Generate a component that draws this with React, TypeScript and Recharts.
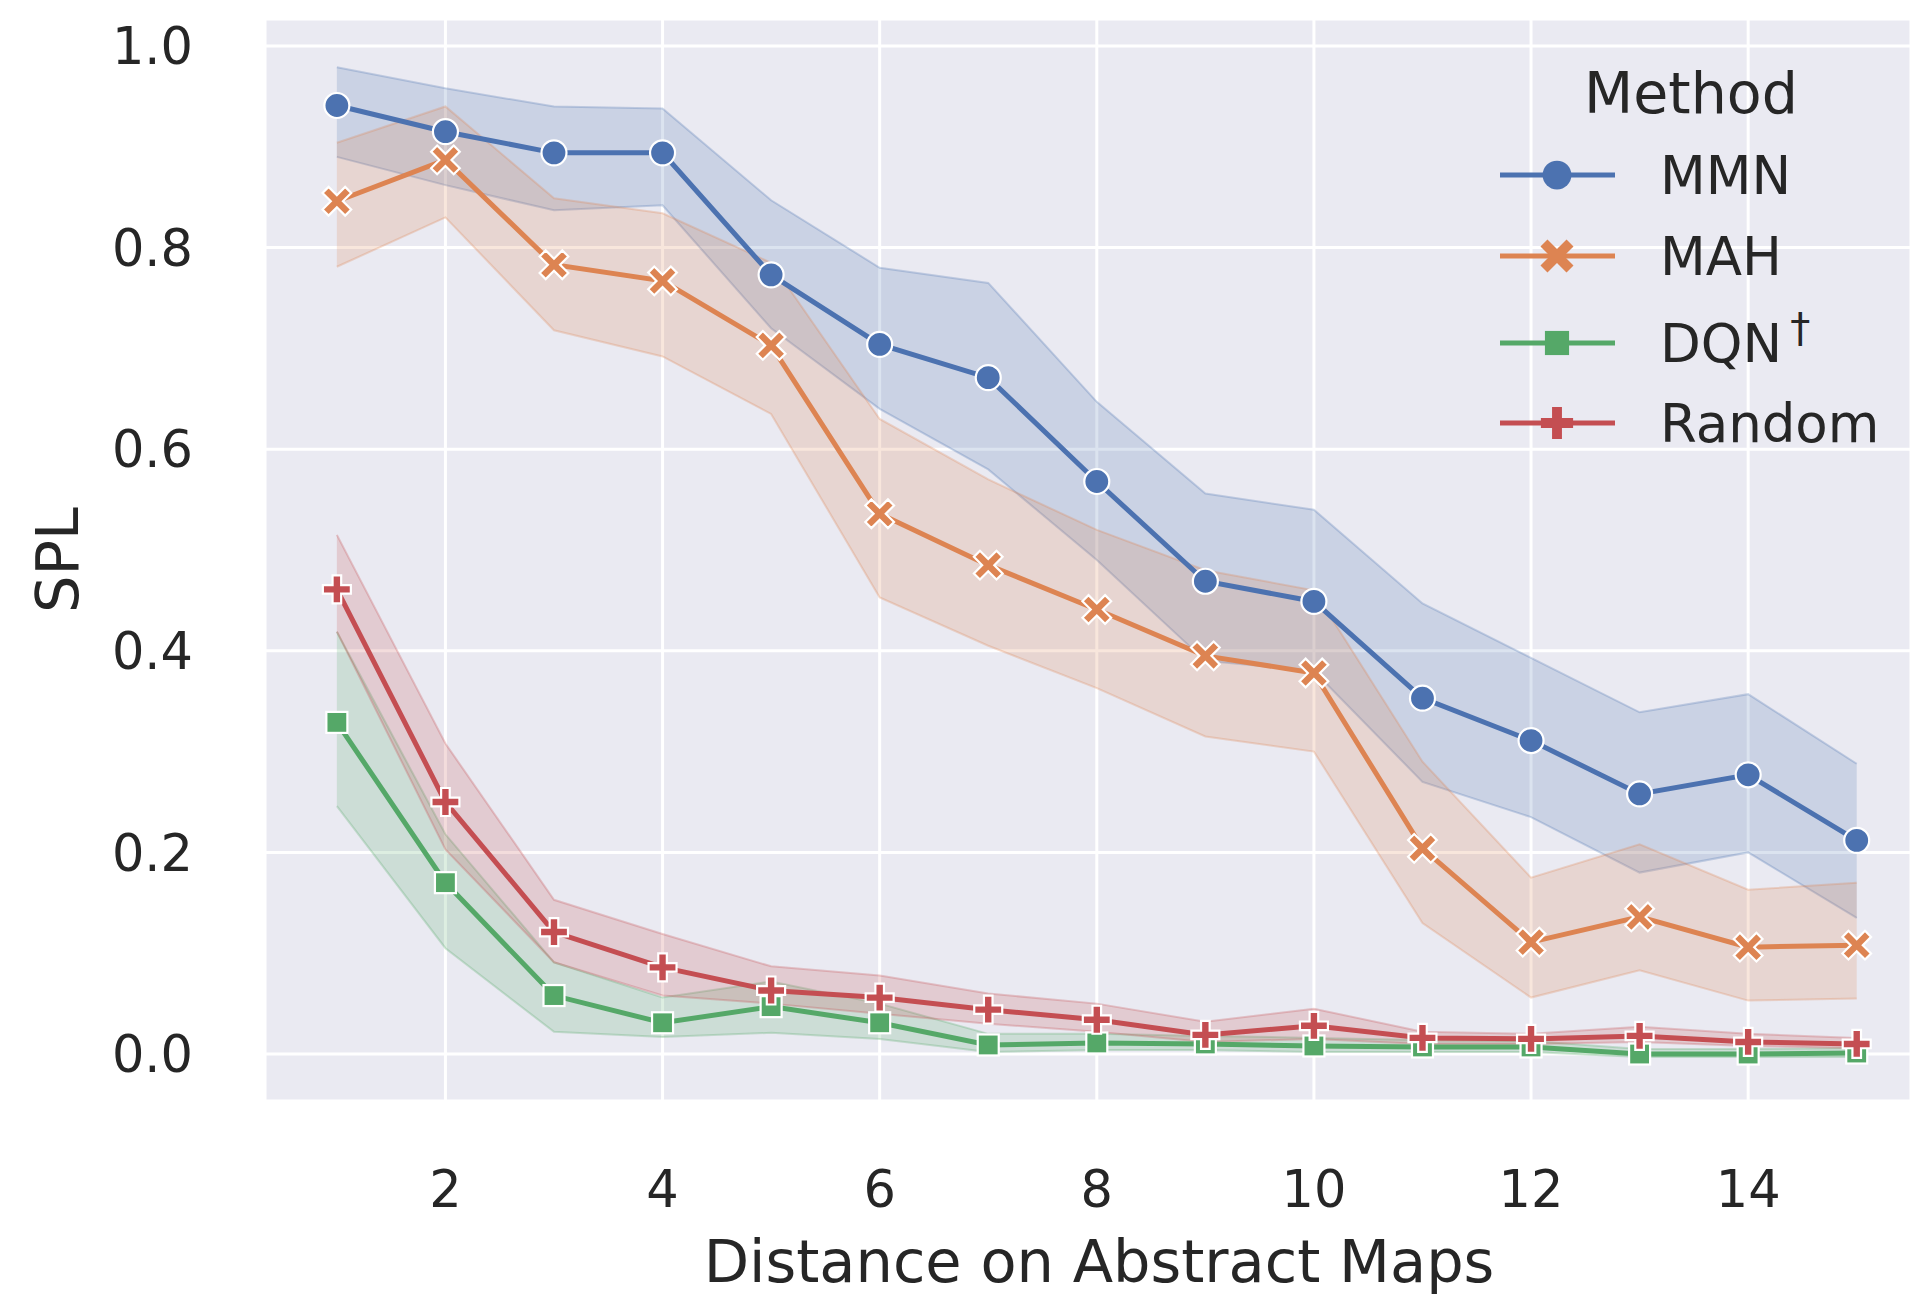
import React from 'react';
import { ComposedChart, Line, Area, XAxis, YAxis, CartesianGrid, Legend, Label } from 'recharts';

document.body.style.margin = '0';

const distances = [1, 2, 3, 4, 5, 6, 7, 8, 9, 10, 11, 12, 13, 14, 15];

const mmnMean = [0.941, 0.915, 0.894, 0.894, 0.773, 0.704, 0.671, 0.568, 0.469, 0.449, 0.353, 0.311, 0.258, 0.277, 0.212];
const mmnLow = [0.89, 0.862, 0.837, 0.842, 0.72, 0.64, 0.58, 0.49, 0.39, 0.38, 0.27, 0.235, 0.18, 0.2, 0.135];
const mmnHigh = [0.979, 0.958, 0.94, 0.938, 0.847, 0.78, 0.765, 0.647, 0.556, 0.54, 0.447, 0.393, 0.339, 0.357, 0.288];

const mahMean = [0.846, 0.887, 0.783, 0.767, 0.703, 0.536, 0.485, 0.441, 0.395, 0.378, 0.204, 0.111, 0.136, 0.106, 0.108];
const mahLow = [0.781, 0.83, 0.718, 0.692, 0.635, 0.453, 0.405, 0.363, 0.315, 0.3, 0.13, 0.056, 0.083, 0.053, 0.055];
const mahHigh = [0.904, 0.94, 0.849, 0.834, 0.785, 0.63, 0.57, 0.52, 0.48, 0.46, 0.29, 0.175, 0.208, 0.163, 0.17];

const dqnMean = [0.329, 0.17, 0.058, 0.031, 0.047, 0.031, 0.009, 0.011, 0.01, 0.008, 0.007, 0.007, 0.0, 0.0, 0.001];
const dqnLow = [0.246, 0.105, 0.022, 0.017, 0.021, 0.015, 0.002, 0.004, 0.004, 0.002, 0.002, 0.002, -0.003, -0.003, -0.003];
const dqnHigh = [0.419, 0.218, 0.091, 0.056, 0.072, 0.05, 0.02, 0.02, 0.018, 0.016, 0.014, 0.013, 0.005, 0.005, 0.006];

const randomMean = [0.461, 0.25, 0.121, 0.086, 0.063, 0.056, 0.044, 0.034, 0.019, 0.028, 0.016, 0.015, 0.018, 0.012, 0.01];
const randomLow = [0.419, 0.203, 0.091, 0.058, 0.05, 0.04, 0.03, 0.022, 0.012, 0.015, 0.01, 0.01, 0.012, 0.008, 0.006];
const randomHigh = [0.515, 0.308, 0.153, 0.119, 0.087, 0.078, 0.06, 0.05, 0.032, 0.045, 0.022, 0.02, 0.027, 0.02, 0.016];

const xTicks = [2, 4, 6, 8, 10, 12, 14];
const yTicks = [0, 0.2, 0.4, 0.6, 0.8, 1.0];

const BLUE = '#4C72B0';
const ORANGE = '#DD8452';
const GREEN = '#55A868';
const RED = '#C44E52';
const TEXT = '#262626';
const FONT = '"DejaVu Sans", sans-serif';

type Shape = 'circle' | 'x' | 'square' | 'plus';

const series: { key: string; label: string; color: string; shape: Shape; mean: number[]; low: number[]; high: number[] }[] = [
  { key: 'mmn', label: 'MMN', color: BLUE, shape: 'circle', mean: mmnMean, low: mmnLow, high: mmnHigh },
  { key: 'mah', label: 'MAH', color: ORANGE, shape: 'x', mean: mahMean, low: mahLow, high: mahHigh },
  { key: 'dqn', label: 'DQN', color: GREEN, shape: 'square', mean: dqnMean, low: dqnLow, high: dqnHigh },
  { key: 'random', label: 'Random', color: RED, shape: 'plus', mean: randomMean, low: randomLow, high: randomHigh },
];

const data = distances.map((d, i) => {
  const row: Record<string, number | number[]> = { distance: d };
  series.forEach((s) => {
    row[s.key] = s.mean[i];
    row[`${s.key}Band`] = [s.low[i], s.high[i]];
  });
  return row;
});

function Marker({ shape, cx, cy, color, scale = 1, edge = true }: { shape: Shape; cx: number; cy: number; color: string; scale?: number; edge?: boolean }) {
  const stroke = edge ? '#ffffff' : 'none';
  const sw = edge ? 2.2 : 0;
  if (shape === 'circle') {
    return <circle cx={cx} cy={cy} r={12.5 * scale} fill={color} stroke={stroke} strokeWidth={sw} />;
  }
  if (shape === 'square') {
    const h = 10.5 * scale;
    return <rect x={cx - h} y={cy - h} width={2 * h} height={2 * h} fill={color} stroke={stroke} strokeWidth={sw} />;
  }
  const s = (shape === 'x' ? 16 : 14) * scale;
  const w = 4.3 * scale;
  const pts = [
    [-w, -s], [w, -s], [w, -w], [s, -w], [s, w], [w, w],
    [w, s], [-w, s], [-w, w], [-s, w], [-s, -w], [-w, -w],
  ].map((p) => p.join(',')).join(' ');
  const rot = shape === 'x' ? 45 : 0;
  return (
    <polygon
      points={pts}
      transform={`translate(${cx},${cy}) rotate(${rot})`}
      fill={color}
      stroke={stroke}
      strokeWidth={sw}
      strokeLinejoin="miter"
    />
  );
}

const makeDot = (shape: Shape, color: string) => (props: any) => {
  const { cx, cy, index } = props;
  if (cx == null || cy == null) return <g key={`e-${index}`} />;
  return <Marker key={`${shape}-${index}`} shape={shape} cx={cx} cy={cy} color={color} />;
};

function MethodLegend() {
  const rowY = [135, 216, 303, 383];
  return (
    <svg width={431} height={420} style={{ overflow: 'visible' }}>
      <text x={211} y={73} textAnchor="middle" fontFamily={FONT} fontSize={57} fill={TEXT}>
        Method
      </text>
      {series.map((s, i) => (
        <g key={s.key}>
          <line x1={20} x2={135} y1={rowY[i]} y2={rowY[i]} stroke={s.color} strokeWidth={5} />
          <Marker shape={s.shape} cx={77} cy={rowY[i]} color={s.color} scale={1.15} edge={false} />
          <text x={180} y={rowY[i]} dy="0.36em" fontFamily={FONT} fontSize={53} fill={TEXT}>
            {s.label}
            {s.key === 'dqn' ? (
              <tspan dx={8} dy="-0.5em" fontSize={40}>†</tspan>
            ) : null}
          </text>
        </g>
      ))}
    </svg>
  );
}

export default function App() {
  return (
    <div style={{ width: 1911, height: 1298, background: '#ffffff', position: 'relative' }}>
      <ComposedChart
        width={1911}
        height={1298}
        data={data}
        margin={{ top: 19, right: 0, bottom: 0, left: 0 }}
      >
        <CartesianGrid fill="#EAEAF2" stroke="#ffffff" strokeWidth={3} />
        <XAxis
          dataKey="distance"
          type="number"
          domain={[0.338, 15.5]}
          ticks={xTicks}
          allowDataOverflow
          height={197}
          axisLine={false}
          tickLine={false}
          tickSize={0}
          tickMargin={70}
          tick={{ fontSize: 51, fill: TEXT, fontFamily: FONT }}
        >
          <Label
            content={({ viewBox }: any) => (
              <text
                x={viewBox.x + viewBox.width / 2 + 11}
                y={1282}
                textAnchor="middle"
                fontFamily={FONT}
                fontSize={59}
                fill={TEXT}
              >
                Distance on Abstract Maps
              </text>
            )}
          />
        </XAxis>
        <YAxis
          type="number"
          domain={[-0.0466, 1.0268]}
          ticks={yTicks}
          allowDataOverflow
          width={265}
          axisLine={false}
          tickLine={false}
          tickSize={0}
          tickMargin={72}
          tickFormatter={(v: number) => v.toFixed(1)}
          tick={{ fontSize: 51, fill: TEXT, fontFamily: FONT }}
        >
          <Label
            content={({ viewBox }: any) => (
              <text
                x={0}
                y={0}
                transform={`translate(${78}, ${viewBox.y + viewBox.height / 2}) rotate(-90)`}
                textAnchor="middle"
                fontFamily={FONT}
                fontSize={59}
                fill={TEXT}
              >
                SPL
              </text>
            )}
          />
        </YAxis>
        {series.map((s) => (
          <Area
            key={`${s.key}-band`}
            type="linear"
            dataKey={`${s.key}Band`}
            stroke={s.color}
            strokeOpacity={0.28}
            strokeWidth={2}
            fill={s.color}
            fillOpacity={0.2}
            dot={false}
            activeDot={false}
            legendType="none"
            isAnimationActive={false}
          />
        ))}
        {series.map((s) => (
          <Line
            key={s.key}
            type="linear"
            dataKey={s.key}
            stroke={s.color}
            strokeWidth={5}
            dot={makeDot(s.shape, s.color)}
            activeDot={false}
            isAnimationActive={false}
          />
        ))}
        <Legend
          layout="vertical"
          align="center"
          verticalAlign="middle"
          content={() => <MethodLegend />}
          wrapperStyle={{ left: 1480, top: 40, width: 431, height: 420 }}
        />
      </ComposedChart>
    </div>
  );
}
